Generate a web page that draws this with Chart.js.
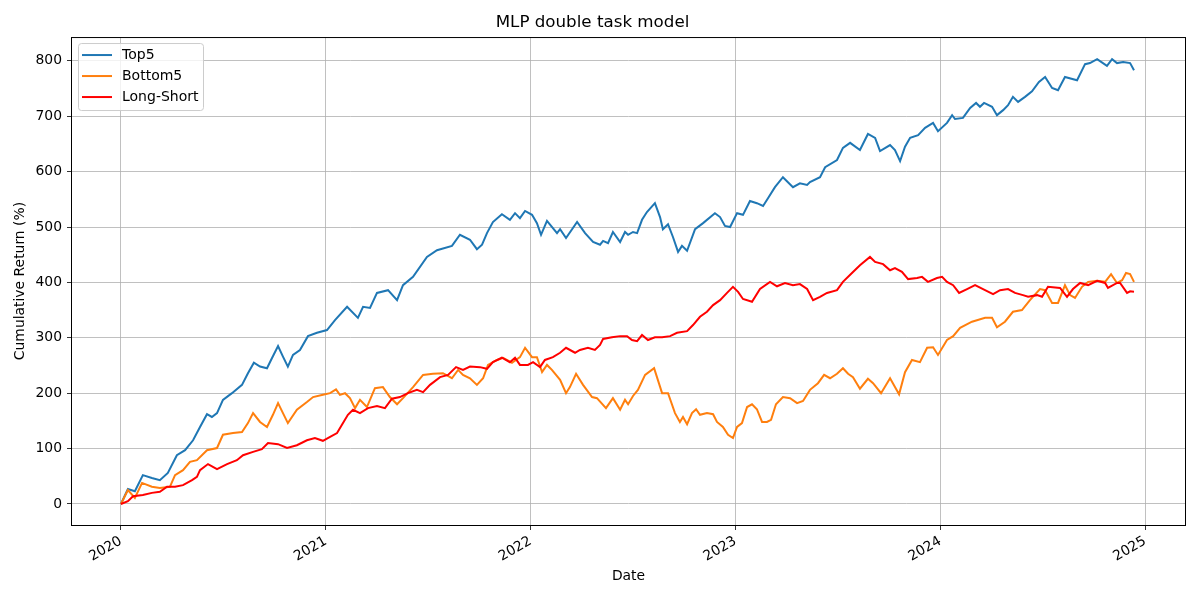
<!DOCTYPE html>
<html>
<head>
<meta charset="utf-8">
<title>MLP double task model</title>
<script src="https://cdn.jsdelivr.net/npm/chart.js@4.4.0/dist/chart.umd.min.js"></script>
<style>
    html, body { margin: 0; padding: 0; background: #fff; }
    #wrap { width: 1200px; height: 600px; }
</style>
</head>
<body>
<div id="wrap"><canvas id="chart" width="1200" height="600"></canvas></div>
<script>
// dates are decimal years, values are cumulative return in %
const top5Dates = [
    2020.000, 2020.034, 2020.068, 2020.107, 2020.151, 2020.190, 2020.229, 2020.273, 2020.313, 2020.352,
    2020.386, 2020.420, 2020.444, 2020.469, 2020.498, 2020.542, 2020.591, 2020.620, 2020.649, 2020.679,
    2020.713, 2020.737, 2020.767, 2020.791, 2020.815, 2020.840, 2020.874, 2020.913, 2020.957, 2021.006,
    2021.045, 2021.104, 2021.157, 2021.182, 2021.216, 2021.250, 2021.304, 2021.348, 2021.377, 2021.426,
    2021.494, 2021.543, 2021.616, 2021.655, 2021.704, 2021.738, 2021.763, 2021.787, 2021.816, 2021.860,
    2021.899, 2021.924, 2021.948, 2021.973, 2022.007, 2022.031, 2022.051, 2022.080, 2022.129, 2022.144,
    2022.173, 2022.227, 2022.266, 2022.305, 2022.339, 2022.354, 2022.378, 2022.402, 2022.437, 2022.461,
    2022.476, 2022.500, 2022.520, 2022.544, 2022.568, 2022.607, 2022.632, 2022.646, 2022.671, 2022.695,
    2022.720, 2022.739, 2022.764, 2022.803, 2022.842, 2022.900, 2022.925, 2022.949, 2022.974, 2023.008,
    2023.037, 2023.071, 2023.105, 2023.135, 2023.159, 2023.193, 2023.232, 2023.281, 2023.315, 2023.350,
    2023.364, 2023.413, 2023.438, 2023.496, 2023.525, 2023.560, 2023.608, 2023.647, 2023.682, 2023.706,
    2023.755, 2023.779, 2023.804, 2023.828, 2023.853, 2023.892, 2023.926, 2023.965, 2023.989, 2024.033,
    2024.058, 2024.072, 2024.111, 2024.146, 2024.175, 2024.194, 2024.214, 2024.253, 2024.277, 2024.307,
    2024.331, 2024.355, 2024.380, 2024.414, 2024.448, 2024.482, 2024.512, 2024.546, 2024.575, 2024.609,
    2024.668, 2024.707, 2024.731, 2024.766, 2024.814, 2024.839, 2024.863, 2024.893, 2024.927, 2024.946
];
const top5Values = [
    0, 27, 23, 52, 47, 43, 56, 88, 97, 115,
    139, 162, 157, 164, 188, 200, 215, 236, 255, 248,
    245, 263, 285, 266, 248, 269, 278, 303, 309, 314,
    332, 356, 336, 356, 354, 381, 386, 368, 395, 410,
    446, 458, 466, 486, 477, 460, 468, 489, 509, 523,
    513, 525, 516, 529, 522, 507, 486, 511, 489, 496,
    480, 509, 489, 473, 468, 475, 471, 491, 473, 491,
    486, 491, 489, 513, 527, 543, 518, 496, 505, 482,
    455, 466, 457, 496, 507, 525, 518, 502, 500, 525,
    522, 547, 543, 538, 552, 572, 590, 572, 579, 576,
    581, 590, 608, 621, 643, 652, 639, 668, 661, 637,
    648, 639, 619, 645, 661, 666, 679, 688, 673, 688,
    702, 695, 697, 715, 724, 717, 724, 717, 702, 711,
    720, 735, 726, 735, 745, 762, 771, 751, 747, 771,
    765, 794, 796, 803, 791, 803, 796, 798, 796, 783
];

const bottom5Dates = [
    2020.000, 2020.034, 2020.068, 2020.103, 2020.151, 2020.190, 2020.239, 2020.264, 2020.303, 2020.337,
    2020.371, 2020.420, 2020.469, 2020.498, 2020.547, 2020.591, 2020.620, 2020.645, 2020.679, 2020.713,
    2020.742, 2020.767, 2020.791, 2020.815, 2020.859, 2020.908, 2020.938, 2020.986, 2021.021, 2021.050,
    2021.069, 2021.094, 2021.118, 2021.143, 2021.167, 2021.201, 2021.240, 2021.279, 2021.313, 2021.348,
    2021.377, 2021.426, 2021.475, 2021.523, 2021.572, 2021.616, 2021.646, 2021.670, 2021.704, 2021.738,
    2021.768, 2021.792, 2021.836, 2021.865, 2021.909, 2021.948, 2021.973, 2022.007, 2022.031, 2022.056,
    2022.080, 2022.104, 2022.144, 2022.173, 2022.192, 2022.222, 2022.256, 2022.300, 2022.324, 2022.368,
    2022.402, 2022.437, 2022.461, 2022.476, 2022.500, 2022.524, 2022.559, 2022.603, 2022.642, 2022.671,
    2022.705, 2022.729, 2022.744, 2022.764, 2022.788, 2022.808, 2022.827, 2022.861, 2022.891, 2022.910,
    2022.939, 2022.964, 2022.988, 2023.008, 2023.032, 2023.057, 2023.081, 2023.105, 2023.130, 2023.154,
    2023.174, 2023.198, 2023.232, 2023.267, 2023.301, 2023.330, 2023.364, 2023.403, 2023.433, 2023.462,
    2023.496, 2023.525, 2023.550, 2023.574, 2023.608, 2023.647, 2023.672, 2023.711, 2023.755, 2023.779,
    2023.799, 2023.828, 2023.862, 2023.901, 2023.936, 2023.965, 2023.989, 2024.033, 2024.063, 2024.097,
    2024.155, 2024.219, 2024.253, 2024.277, 2024.316, 2024.355, 2024.399, 2024.438, 2024.487, 2024.512,
    2024.546, 2024.575, 2024.609, 2024.634, 2024.658, 2024.692, 2024.722, 2024.766, 2024.805, 2024.834,
    2024.863, 2024.888, 2024.907, 2024.927, 2024.946
];
const bottom5Values = [
    0, 25, 11, 38, 31, 29, 31, 52, 61, 76,
    79, 97, 101, 125, 128, 130, 146, 164, 148, 139,
    161, 182, 164, 146, 170, 184, 193, 197, 200, 207,
    197, 200, 191, 173, 188, 175, 209, 211, 193, 180,
    191, 211, 233, 235, 236, 227, 242, 233, 227, 215,
    227, 251, 260, 264, 255, 265, 282, 265, 265, 238,
    251, 242, 224, 200, 211, 235, 215, 193, 191, 173,
    191, 170, 188, 180, 195, 206, 233, 245, 200, 200,
    164, 148, 157, 144, 164, 171, 161, 164, 162, 148,
    139, 125, 119, 139, 146, 175, 180, 171, 148, 148,
    152, 180, 193, 191, 182, 186, 206, 218, 233, 227,
    235, 245, 235, 229, 208, 226, 218, 200, 227, 211,
    198, 238, 260, 256, 282, 283, 269, 296, 303, 318,
    329, 336, 336, 319, 329, 347, 350, 368, 388, 386,
    363, 363, 395, 377, 372, 392, 401, 403, 401, 415,
    399, 404, 417, 415, 401
];

const longShortDates = [
    2020.000, 2020.034, 2020.059, 2020.107, 2020.151, 2020.190, 2020.225, 2020.264, 2020.303, 2020.347,
    2020.371, 2020.386, 2020.425, 2020.469, 2020.518, 2020.566, 2020.596, 2020.645, 2020.688, 2020.718,
    2020.767, 2020.811, 2020.859, 2020.908, 2020.947, 2020.986, 2021.021, 2021.055, 2021.079, 2021.108,
    2021.133, 2021.167, 2021.206, 2021.250, 2021.289, 2021.323, 2021.362, 2021.401, 2021.445, 2021.475,
    2021.509, 2021.558, 2021.597, 2021.636, 2021.670, 2021.704, 2021.753, 2021.787, 2021.816, 2021.860,
    2021.899, 2021.924, 2021.948, 2021.987, 2022.012, 2022.046, 2022.070, 2022.109, 2022.144, 2022.173,
    2022.217, 2022.241, 2022.280, 2022.314, 2022.339, 2022.354, 2022.397, 2022.437, 2022.471, 2022.495,
    2022.520, 2022.544, 2022.573, 2022.607, 2022.642, 2022.681, 2022.715, 2022.764, 2022.793, 2022.827,
    2022.861, 2022.891, 2022.925, 2022.959, 2022.988, 2023.013, 2023.037, 2023.081, 2023.120, 2023.169,
    2023.203, 2023.242, 2023.281, 2023.315, 2023.350, 2023.379, 2023.413, 2023.447, 2023.496, 2023.525,
    2023.569, 2023.608, 2023.657, 2023.682, 2023.721, 2023.755, 2023.779, 2023.813, 2023.843, 2023.887,
    2023.911, 2023.940, 2023.984, 2024.009, 2024.033, 2024.063, 2024.092, 2024.131, 2024.170, 2024.209,
    2024.258, 2024.292, 2024.331, 2024.365, 2024.404, 2024.429, 2024.473, 2024.497, 2024.526, 2024.585,
    2024.619, 2024.648, 2024.683, 2024.722, 2024.766, 2024.805, 2024.819, 2024.863, 2024.878, 2024.912,
    2024.927, 2024.946
];
const longShortValues = [
    0, 5, 14, 16, 20, 22, 31, 31, 34, 43,
    49, 61, 72, 63, 72, 79, 88, 94, 99, 110,
    108, 101, 106, 115, 119, 114, 121, 128, 143, 161,
    170, 164, 173, 177, 173, 190, 193, 200, 206, 202,
    215, 229, 233, 247, 242, 248, 247, 244, 256, 264,
    256, 264, 251, 251, 256, 247, 260, 265, 273, 282,
    273, 278, 282, 278, 287, 298, 301, 303, 303, 296,
    294, 305, 296, 301, 301, 303, 309, 312, 323, 338,
    347, 359, 368, 381, 392, 383, 370, 365, 388, 401,
    393, 399, 395, 397, 388, 368, 374, 381, 386, 401,
    417, 431, 446, 437, 433, 422, 426, 419, 406, 408,
    410, 401, 408, 410, 401, 395, 381, 388, 395, 388,
    379, 386, 388, 381, 377, 374, 377, 374, 392, 390,
    374, 388, 399, 395, 403, 399, 390, 399, 399, 381,
    384, 383
];

const seriesNames = ["Top5", "Bottom5", "Long-Short"];
const seriesColors = ["#1f77b4", "#ff7f0e", "#ff0000"];

function toPoints(dates, values) {
    return dates.map((d, i) => ({ x: d, y: values[i] }));
}

Chart.defaults.font.family = "'DejaVu Sans', sans-serif";
Chart.defaults.color = "#000";

// black box round the plot area, like the matplotlib axes frame
const frame = {
    id: "frame",
    afterDatasetsDraw(chart) {
        const { ctx, chartArea: a } = chart;
        ctx.save();
        ctx.strokeStyle = "#000";
        ctx.lineWidth = 1;
        ctx.strokeRect(a.left - 0.5, a.top + 0.5, a.right - a.left + 1, a.bottom - a.top);
        ctx.restore();
    }
};

// legend drawn inside the plot, upper left
const innerLegend = {
    id: "innerLegend",
    afterDraw(chart) {
        const { ctx, chartArea: a } = chart;
        const x = a.left + 6, y = a.top + 6, w = 125, h = 67, r = 3;
        ctx.save();
        ctx.beginPath();
        ctx.roundRect(x + 0.5, y + 0.5, w, h, r);
        ctx.fillStyle = "rgba(255,255,255,0.8)";
        ctx.fill();
        ctx.strokeStyle = "#cccccc";
        ctx.lineWidth = 1;
        ctx.stroke();
        ctx.font = "14px 'DejaVu Sans'";
        ctx.textBaseline = "middle";
        chart.data.datasets.forEach((ds, i) => {
            const ly = y + 12 + i * 21;
            ctx.beginPath();
            ctx.moveTo(x + 4, ly);
            ctx.lineTo(x + 34, ly);
            ctx.strokeStyle = ds.borderColor;
            ctx.lineWidth = 2;
            ctx.stroke();
            ctx.fillStyle = "#000";
            ctx.fillText(ds.label, x + 44, ly);
        });
        ctx.restore();
    }
};

const allDates = [top5Dates, bottom5Dates, longShortDates];
const allValues = [top5Values, bottom5Values, longShortValues];

let datasets = seriesNames.map((name, i) => ({
    label: name,
    data: toPoints(allDates[i], allValues[i]),
    borderColor: seriesColors[i],
    backgroundColor: seriesColors[i],
    borderWidth: 2,
    pointRadius: 0,
    tension: 0,
    fill: false,
    order: seriesNames.length - i
}));

let chart = new Chart(document.getElementById("chart"), {
    type: "line",
    data: { datasets: datasets },
    plugins: [frame, innerLegend],
    options: {
        responsive: false,
        animation: false,
        devicePixelRatio: 1,
        layout: { padding: { left: 0, right: 15, top: 0, bottom: 0 } },
        plugins: {
            legend: { display: false },
            tooltip: { enabled: false },
            title: {
                display: true,
                text: "MLP double task model",
                font: { size: 16.7, weight: "normal" },
                padding: { top: 13, bottom: 4 }
            }
        },
        scales: {
            x: {
                type: "linear",
                min: 2019.761,
                max: 2025.195,
                afterFit: (scale) => { scale.height = 75; },
                grid: { color: "#b0b0b0", lineWidth: 0.8, tickColor: "#000", tickLength: 5 },
                border: { display: false },
                ticks: {
                    stepSize: 1,
                    includeBounds: false,
                    autoSkip: false,
                    minRotation: 30,
                    maxRotation: 30,
                    padding: 3,
                    font: { size: 13.9 },
                    callback: (v) => String(v)
                },
                title: { display: true, text: "Date", font: { size: 13.9 }, padding: { top: 0, bottom: 15 } }
            },
            y: {
                min: -38,
                max: 843,
                afterFit: (scale) => { scale.width = 72; },
                grid: { color: "#b0b0b0", lineWidth: 0.8, tickColor: "#000", tickLength: 5 },
                border: { display: false },
                ticks: {
                    stepSize: 100,
                    includeBounds: false,
                    padding: 5,
                    font: { size: 13.9 },
                    callback: (v) => String(v)
                },
                title: { display: true, text: "Cumulative Return (%)", font: { size: 13.9 }, padding: { top: 12, bottom: 0 } }
            }
        }
    }
});
</script>
</body>
</html>
